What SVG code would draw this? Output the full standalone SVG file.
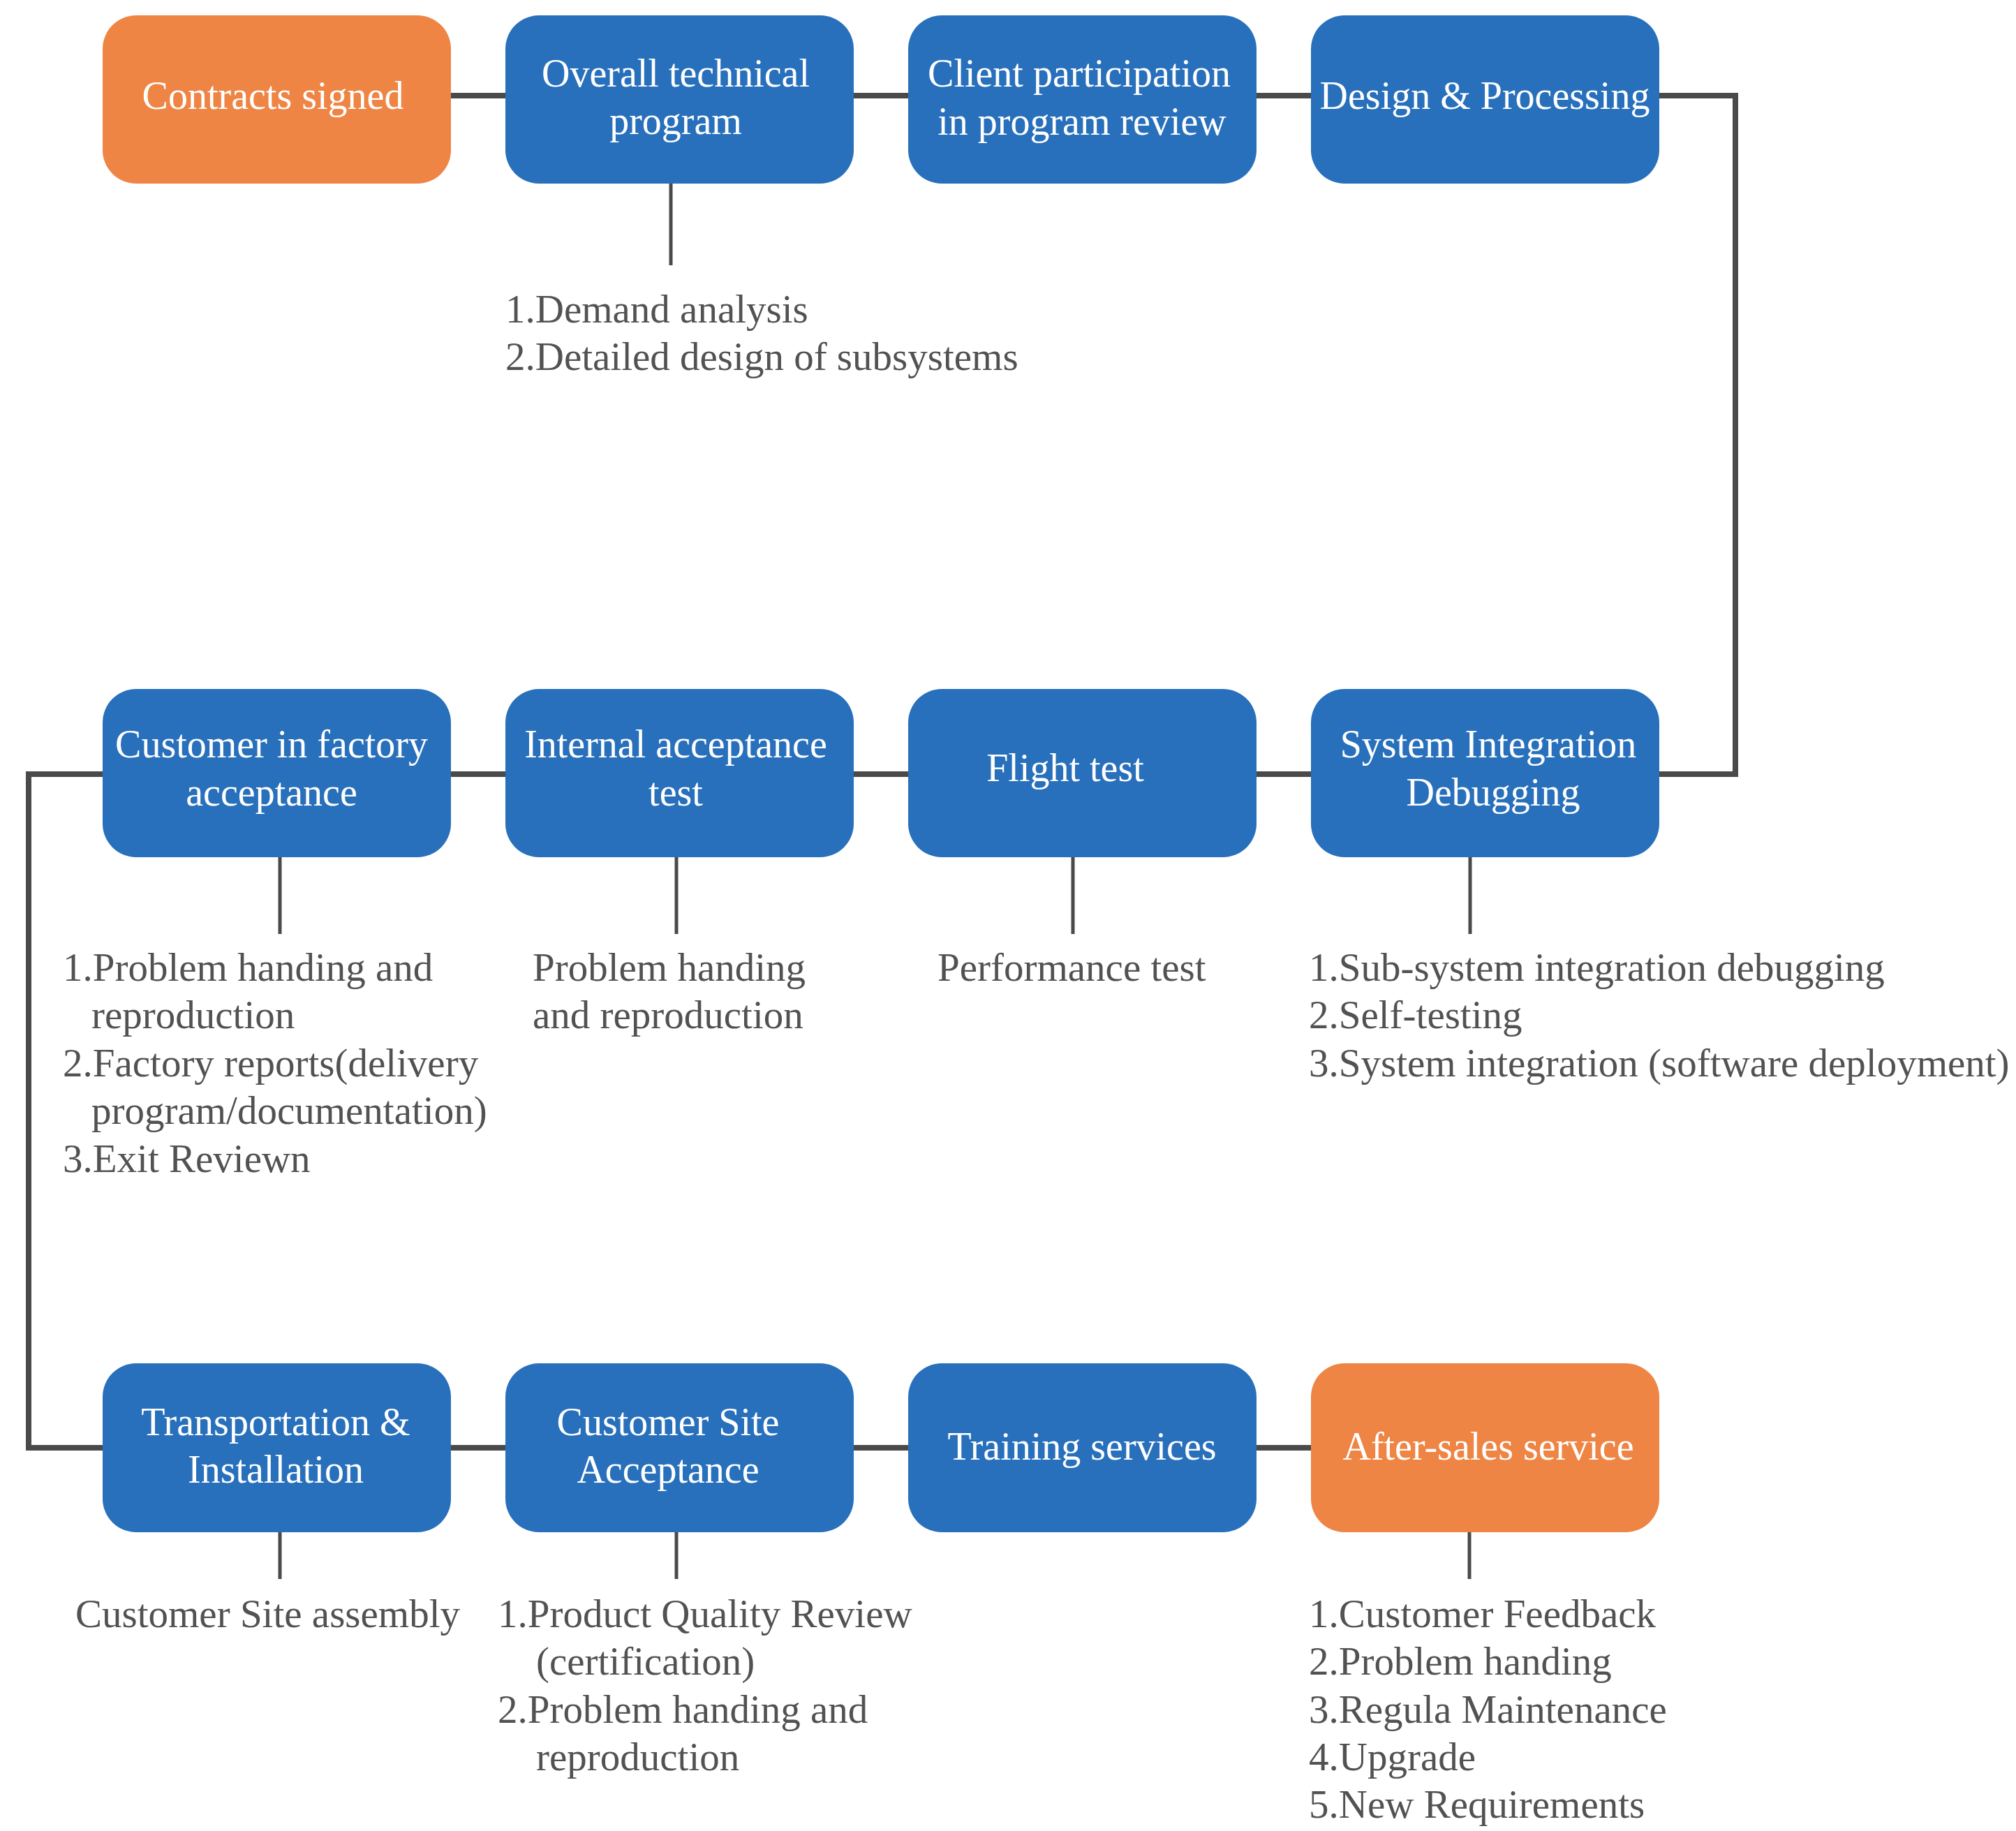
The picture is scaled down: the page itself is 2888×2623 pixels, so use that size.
<svg xmlns="http://www.w3.org/2000/svg" width="2888" height="2623" viewBox="0 0 2888 2623">
<style>
.box{stroke:none}
.blue{fill:#2870BB}
.orange{fill:#EE8544}
.bt{font-family:"Liberation Serif","Times New Roman",serif;font-size:56px;fill:#ffffff;text-anchor:middle}
.ct{font-family:"Liberation Serif","Times New Roman",serif;font-size:57px;fill:#525252}
.h{stroke:#4a4a4a;stroke-width:8;fill:none}
.v{stroke:#4a4a4a;stroke-width:5;fill:none}
</style>
<rect width="2888" height="2623" fill="#ffffff"/>
<g id="connectors">
<line class="h" x1="646" y1="137" x2="724" y2="137"/>
<line class="h" x1="1223" y1="137" x2="1301" y2="137"/>
<line class="h" x1="1800" y1="137" x2="1878" y2="137"/>
<polyline class="h" points="2377,137 2486,137 2486,1109 2377,1109"/>
<line class="h" x1="1800" y1="1109" x2="1878" y2="1109"/>
<line class="h" x1="1223" y1="1109" x2="1301" y2="1109"/>
<line class="h" x1="646" y1="1109" x2="724" y2="1109"/>
<polyline class="h" points="147,1109 41,1109 41,2074 147,2074"/>
<line class="h" x1="646" y1="2074" x2="724" y2="2074"/>
<line class="h" x1="1223" y1="2074" x2="1301" y2="2074"/>
<line class="h" x1="1800" y1="2074" x2="1878" y2="2074"/>
<line class="v" x1="961" y1="263" x2="961" y2="380"/>
<line class="v" x1="401" y1="1228" x2="401" y2="1338"/>
<line class="v" x1="969" y1="1228" x2="969" y2="1338"/>
<line class="v" x1="1537" y1="1228" x2="1537" y2="1338"/>
<line class="v" x1="2106" y1="1228" x2="2106" y2="1338"/>
<line class="v" x1="401" y1="2195" x2="401" y2="2262"/>
<line class="v" x1="969" y1="2195" x2="969" y2="2262"/>
<line class="v" x1="2105" y1="2195" x2="2105" y2="2262"/>
</g>
<g id="n1"><rect class="box orange" x="147" y="22" width="499" height="241" rx="48"/><text class="bt" x="391" y="156">Contracts signed</text></g>
<g id="n2"><rect class="box blue" x="724" y="22" width="499" height="241" rx="48"/><text class="bt" x="968" y="124">Overall technical</text><text class="bt" x="968" y="192">program</text></g>
<g id="n3"><rect class="box blue" x="1301" y="22" width="499" height="241" rx="48"/><text class="bt" x="1546" y="124">Client participation</text><text class="bt" x="1550" y="193">in program review</text></g>
<g id="n4"><rect class="box blue" x="1878" y="22" width="499" height="241" rx="48"/><text class="bt" x="2127" y="156">Design &amp; Processing</text></g>
<g id="n5"><rect class="box blue" x="147" y="987" width="499" height="241" rx="48"/><text class="bt" x="389" y="1085">Customer in factory</text><text class="bt" x="389" y="1154">acceptance</text></g>
<g id="n6"><rect class="box blue" x="724" y="987" width="499" height="241" rx="48"/><text class="bt" x="968" y="1085">Internal acceptance</text><text class="bt" x="968" y="1154">test</text></g>
<g id="n7"><rect class="box blue" x="1301" y="987" width="499" height="241" rx="48"/><text class="bt" x="1526" y="1119">Flight test</text></g>
<g id="n8"><rect class="box blue" x="1878" y="987" width="499" height="241" rx="48"/><text class="bt" x="2132" y="1085">System Integration</text><text class="bt" x="2139" y="1154">Debugging</text></g>
<g id="n9"><rect class="box blue" x="147" y="1953" width="499" height="242" rx="48"/><text class="bt" x="395" y="2056">Transportation &amp;</text><text class="bt" x="395" y="2124">Installation</text></g>
<g id="n10"><rect class="box blue" x="724" y="1953" width="499" height="242" rx="48"/><text class="bt" x="957" y="2056">Customer Site</text><text class="bt" x="957" y="2124">Acceptance</text></g>
<g id="n11"><rect class="box blue" x="1301" y="1953" width="499" height="242" rx="48"/><text class="bt" x="1550" y="2091">Training services</text></g>
<g id="n12"><rect class="box orange" x="1878" y="1953" width="499" height="242" rx="48"/><text class="bt" x="2132" y="2091">After-sales service</text></g>
<g id="captions">
<text class="ct" x="724" y="462">1.Demand analysis</text>
<text class="ct" x="724" y="530">2.Detailed design of subsystems</text>
<text class="ct" x="90" y="1405">1.Problem handing and</text>
<text class="ct" x="131" y="1473">reproduction</text>
<text class="ct" x="90" y="1542">2.Factory reports(delivery</text>
<text class="ct" x="131" y="1610">program/documentation)</text>
<text class="ct" x="90" y="1679">3.Exit Reviewn</text>
<text class="ct" x="763" y="1405">Problem handing</text>
<text class="ct" x="763" y="1473">and reproduction</text>
<text class="ct" x="1343" y="1405">Performance test</text>
<text class="ct" x="1875" y="1405">1.Sub-system integration debugging</text>
<text class="ct" x="1875" y="1473">2.Self-testing</text>
<text class="ct" x="1875" y="1542">3.System integration (software deployment)</text>
<text class="ct" x="108" y="2331">Customer Site assembly</text>
<text class="ct" x="713" y="2331">1.Product Quality Review</text>
<text class="ct" x="768" y="2399">(certification)</text>
<text class="ct" x="713" y="2468">2.Problem handing and</text>
<text class="ct" x="768" y="2536">reproduction</text>
<text class="ct" x="1875" y="2331">1.Customer Feedback</text>
<text class="ct" x="1875" y="2399">2.Problem handing</text>
<text class="ct" x="1875" y="2468">3.Regula Maintenance</text>
<text class="ct" x="1875" y="2536">4.Upgrade</text>
<text class="ct" x="1875" y="2604">5.New Requirements</text>
</g>
</svg>
